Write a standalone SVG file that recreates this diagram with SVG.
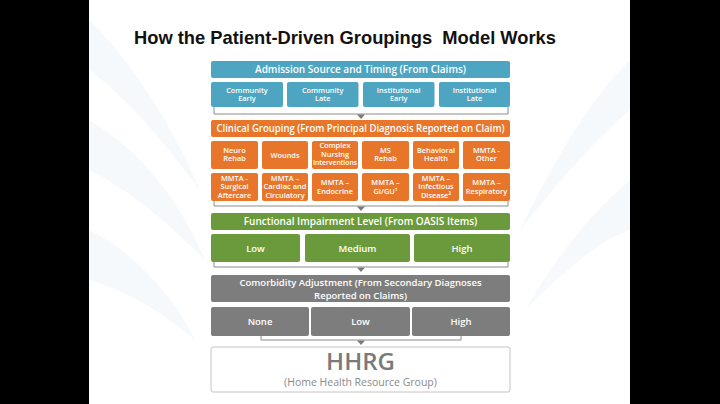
<svg xmlns="http://www.w3.org/2000/svg" width="720" height="404" viewBox="0 0 720 404">
<defs>
<style>
.t{font-family:"Open Sans","Liberation Sans",sans-serif;font-weight:600;fill:#fff;text-anchor:middle}
.h{font-size:10px}
.s{font-size:7.4px}
.m{font-size:9.5px}
.blue{fill:#4ea5c2}
.orange{fill:#e8762a}
.green{fill:#6b9a3c}
.gray{fill:#7d7d7d}
.br{fill:none;stroke:#8c8c8c;stroke-width:1}
.ar{fill:#7a7a7a}
</style>
</defs>
<rect x="0" y="0" width="720" height="404" fill="#000"/>
<rect x="89" y="0" width="541" height="404" fill="#fff"/>
<g id="watermark" fill="#dfe9f2" opacity="0.25">
<path d="M89,20 C130,60 170,120 200,190 C170,150 130,100 89,70 Z"/>
<path d="M89,120 C140,150 180,200 205,260 C170,225 130,190 89,170 Z"/>
<path d="M89,230 C130,250 170,290 195,340 C160,310 125,290 89,280 Z"/>
<path d="M630,60 C590,100 560,150 520,230 C560,180 595,140 630,110 Z"/>
<path d="M630,180 C595,210 560,250 525,310 C565,270 600,240 630,230 Z"/>
</g>
<text id="title" x="345" y="44" xml:space="preserve" font-family="'Liberation Sans',sans-serif" font-weight="bold" font-size="19" fill="#111" text-anchor="middle" textLength="422" lengthAdjust="spacingAndGlyphs">How the Patient-Driven Groupings  Model Works</text>
<g id="connectors">
<polyline class="br" points="214,107 214,114 508,114 508,107"/>
<polygon class="ar" points="357,114.5 365,114.5 361,119"/>
<polyline class="br" points="214,201 214,206 508,206 508,201"/>
<polygon class="ar" points="357,206.5 365,206.5 361,211"/>
<polyline class="br" points="214,262 214,267 508,267 508,262"/>
<polygon class="ar" points="357,267.5 365,267.5 361,272"/>
<polyline class="br" points="261,336 261,340 461,340 461,336"/>
<polygon class="ar" points="357,340.5 365,340.5 361,345"/>
</g>
<g id="admission">
<rect class="blue" x="211" y="61" width="299" height="17" rx="2"/>
<text class="t h" x="360.5" y="73">Admission Source and Timing (From Claims)</text>
</g>
<g id="community-early"><rect class="blue" x="211" y="82" width="72" height="25" rx="2"/><text class="t s" x="247" y="92.5">Community</text><text class="t s" x="247" y="101">Early</text></g>
<g id="community-late"><rect class="blue" x="287" y="82" width="71.5" height="25" rx="2"/><text class="t s" x="322.7" y="92.5">Community</text><text class="t s" x="322.7" y="101">Late</text></g>
<g id="institutional-early"><rect class="blue" x="363" y="82" width="71.5" height="25" rx="2"/><text class="t s" x="398.7" y="92.5">Institutional</text><text class="t s" x="398.7" y="101">Early</text></g>
<g id="institutional-late"><rect class="blue" x="439" y="82" width="71" height="25" rx="2"/><text class="t s" x="474.5" y="92.5">Institutional</text><text class="t s" x="474.5" y="101">Late</text></g>
<g id="clinical">
<rect class="orange" x="211" y="120" width="299" height="17" rx="2"/>
<text class="t h" x="360.5" y="132" textLength="288" lengthAdjust="spacingAndGlyphs">Clinical Grouping (From Principal Diagnosis Reported on Claim)</text>
</g>
<g id="neuro-rehab"><rect class="orange" x="211" y="141" width="47" height="28" rx="2"/><text class="t s" x="234.5" y="152.5">Neuro</text><text class="t s" x="234.5" y="161">Rehab</text></g>
<g id="wounds"><rect class="orange" x="262" y="141" width="46" height="28" rx="2"/><text class="t s" x="285" y="157.5">Wounds</text></g>
<g id="complex-nursing"><rect class="orange" x="312" y="141" width="46" height="28" rx="2"/><text class="t s" x="335" y="148">Complex</text><text class="t s" x="335" y="156.5">Nursing</text><text class="t s" x="335" y="165" textLength="44" lengthAdjust="spacingAndGlyphs">Interventions</text></g>
<g id="ms-rehab"><rect class="orange" x="362" y="141" width="47" height="28" rx="2"/><text class="t s" x="385.5" y="152.5">MS</text><text class="t s" x="385.5" y="161">Rehab</text></g>
<g id="behavioral-health"><rect class="orange" x="413" y="141" width="46" height="28" rx="2"/><text class="t s" x="436" y="152.5">Behavioral</text><text class="t s" x="436" y="161">Health</text></g>
<g id="mmta-other"><rect class="orange" x="463" y="141" width="47" height="28" rx="2"/><text class="t s" x="486.5" y="152.5">MMTA -</text><text class="t s" x="486.5" y="161">Other</text></g>
<g id="mmta-surgical"><rect class="orange" x="211" y="173" width="47" height="28" rx="2"/><text class="t s" x="234.5" y="180.5">MMTA -</text><text class="t s" x="234.5" y="189">Surgical</text><text class="t s" x="234.5" y="197.5">Aftercare</text></g>
<g id="mmta-cardiac"><rect class="orange" x="262" y="173" width="46" height="28" rx="2"/><text class="t s" x="285" y="180.5">MMTA –</text><text class="t s" x="285" y="189" textLength="43" lengthAdjust="spacingAndGlyphs">Cardiac and</text><text class="t s" x="285" y="197.5">Circulatory</text></g>
<g id="mmta-endocrine"><rect class="orange" x="312" y="173" width="46" height="28" rx="2"/><text class="t s" x="335" y="185">MMTA –</text><text class="t s" x="335" y="193.5">Endocrine</text></g>
<g id="mmta-gigu"><rect class="orange" x="362" y="173" width="47" height="28" rx="2"/><text class="t s" x="385.5" y="185">MMTA –</text><text class="t s" x="385.5" y="193.5">GI/GU¹</text></g>
<g id="mmta-infectious"><rect class="orange" x="413" y="173" width="46" height="28" rx="2"/><text class="t s" x="436" y="180.5">MMTA –</text><text class="t s" x="436" y="189">Infectious</text><text class="t s" x="436" y="197.5">Disease²</text></g>
<g id="mmta-respiratory"><rect class="orange" x="463" y="173" width="47" height="28" rx="2"/><text class="t s" x="486.5" y="185">MMTA –</text><text class="t s" x="486.5" y="193.5">Respiratory</text></g>
<g id="functional">
<rect class="green" x="211" y="213" width="299" height="17" rx="2"/>
<text class="t h" x="360.5" y="225">Functional Impairment Level (From OASIS Items)</text>
</g>
<g id="func-low"><rect class="green" x="211" y="234" width="89" height="28" rx="2"/><text class="t m" x="255.5" y="251.5">Low</text></g>
<g id="func-medium"><rect class="green" x="305" y="234" width="105" height="28" rx="2"/><text class="t m" x="357.5" y="251.5">Medium</text></g>
<g id="func-high"><rect class="green" x="414" y="234" width="96" height="28" rx="2"/><text class="t m" x="462" y="251.5">High</text></g>
<g id="comorbidity">
<rect class="gray" x="211" y="275" width="299" height="27" rx="2"/>
<text class="t" font-size="9.5" x="360.5" y="286">Comorbidity Adjustment (From Secondary Diagnoses</text>
<text class="t" font-size="9.5" x="360.5" y="298.5">Reported on Claims)</text>
</g>
<g id="com-none"><rect class="gray" x="211" y="307" width="98" height="29" rx="2"/><text class="t m" x="260" y="325">None</text></g>
<g id="com-low"><rect class="gray" x="311" y="307" width="99" height="29" rx="2"/><text class="t m" x="360.5" y="325">Low</text></g>
<g id="com-high"><rect class="gray" x="412" y="307" width="98" height="29" rx="2"/><text class="t m" x="461" y="325">High</text></g>
<g id="hhrg">
<rect x="211" y="347" width="299" height="45" rx="2" fill="#fff" stroke="#c4c4c4" stroke-width="1"/>
<text x="360.5" y="370" font-family="'Open Sans','Liberation Sans',sans-serif" font-weight="600" font-size="24" fill="#7a7a7a" text-anchor="middle">HHRG</text>
<text x="360.5" y="385.5" font-family="'Open Sans','Liberation Sans',sans-serif" font-size="10.5" fill="#8a8a8a" text-anchor="middle">(Home Health Resource Group)</text>
</g>
</svg>
